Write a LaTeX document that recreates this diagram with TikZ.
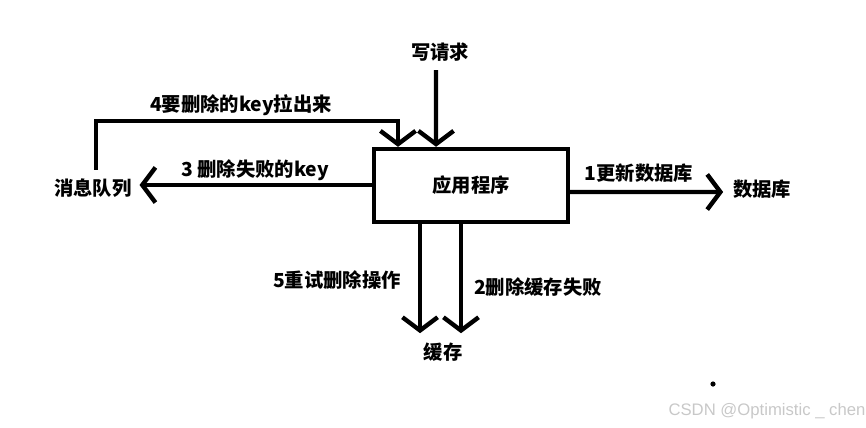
\documentclass[tikz,border=0pt]{standalone}
\usepackage{fontspec}
\newfontfamily\cjk{Noto Sans CJK SC}
\newfontfamily\wmfont{Liberation Sans}
\usepackage{tikz}
\usetikzlibrary{arrows.meta, positioning, calc}
\usepackage{xcolor}
\definecolor{DG}{RGB}{0,0,0}
\definecolor{WM}{RGB}{200,200,200}

\begin{document}
\begin{tikzpicture}[
  x=0.02cm, y=-0.02cm,
  box/.style={draw=DG, line width=2.5pt, minimum width=3.88cm, minimum height=1.46cm,
              font=\cjk\bfseries\fontsize{11}{13}\selectfont},
  lbl/.style={font=\cjk\bfseries\fontsize{11}{13}\selectfont, text=DG, inner sep=2pt},
  arr/.style={draw=DG, line width=2.5pt,
              -{Straight Barb[length=7.5pt, width=20pt, line width=2.5pt]}}
]
\useasboundingbox (0,0) rectangle (866,427);

% Nodes
\node[box] (app) at (471,185.5) {应用程序};
\node[lbl] (req) at (440,52) {写请求};
\node[lbl] (mq) at (93,188) {消息队列};
\node[lbl] (db) at (762,189) {数据库};
\node[lbl] (cache) at (443,352) {缓存};

% Write request
\draw[arr] ([xshift=-0.08cm]req.south) ++(0,5) -- ([xshift=-0.7cm]app.north);

% 1 update database
\draw[arr] ([yshift=-0.13cm]app.east) -- ([xshift=-0.12cm]db.west |- 0,192);

% 3 failed keys to queue
\draw[arr] (app.west |- 0,185) -- ([xshift=0.08cm]mq.east |- 0,185);

% 4 pull keys out of queue
\coordinate (bend) at (398,121);
\draw[arr] ([xshift=0.06cm,yshift=0.1cm]mq.north) |- (bend) -- (bend |- app.north);

% 2 and 5 down to cache
\draw[arr] ([xshift=-1.02cm]app.south) -- ++(0,109);
\draw[arr] ([xshift=-0.2cm]app.south) -- ++(0,109);

% Labels
\node[lbl] (l4) at (241,105) {4要删除的key拉出来};
\node[lbl] (l3) at (255,170) {3 删除失败的key};
\node[lbl] (l1) at (639,173) {1更新数据库};
\node[lbl] (l5) at (337,280) {5重试删除操作};
\node[lbl] (l2) at (538,287) {2删除缓存失败};

% stray dot
\fill[DG] (713,384) circle (2.6);

% watermark
\node[font=\wmfont\fontsize{9.5}{11}\selectfont, text=WM, inner sep=0pt] (wm) at (767,411)
  {CSDN @Optimistic \_ chen};
\end{tikzpicture}
\end{document}
